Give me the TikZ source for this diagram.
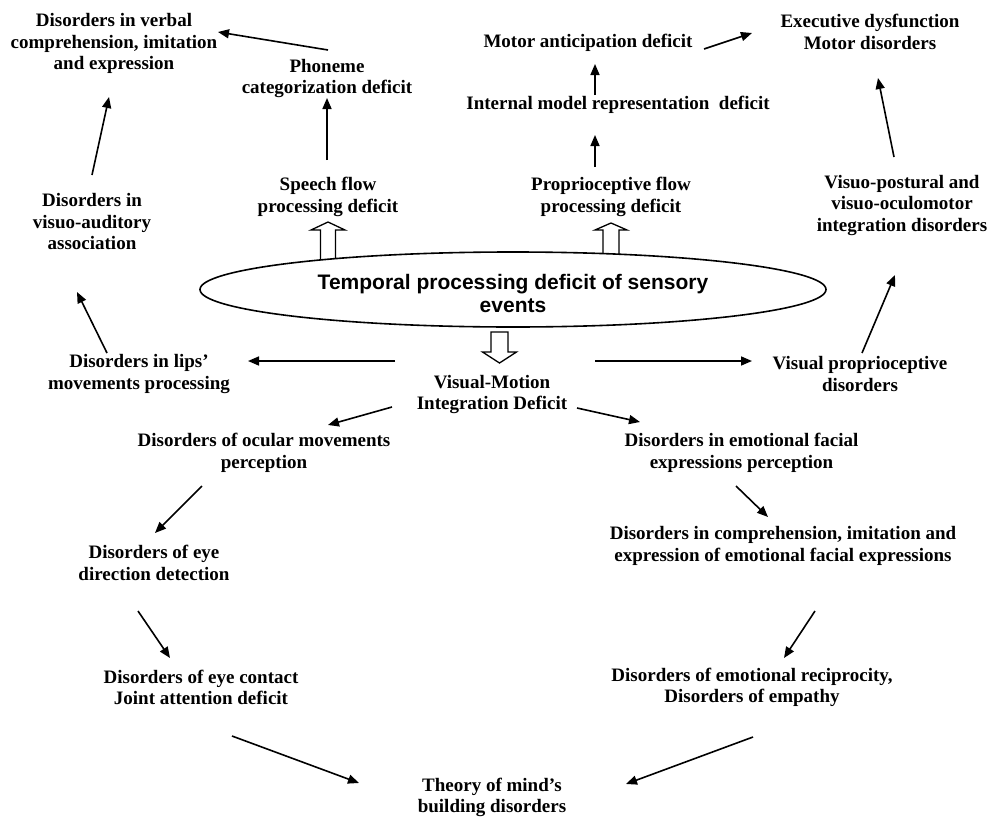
\documentclass[tikz,border=0pt]{standalone}
\usepackage{fontspec}
\setmainfont{Liberation Serif}
\newfontfamily\sansbold{Liberation Sans}
\usetikzlibrary{arrows.meta,calc,shapes.geometric}
\pgfdeclarelayer{bg}
\pgfsetlayers{bg,main}
\begin{document}
\begin{tikzpicture}[x=1pt,y=-1pt,
  lbl/.style={font=\bfseries\fontsize{19}{21.5}\selectfont, align=center, inner sep=0pt},
  arr/.style={line width=1.6pt, -{Triangle[length=11pt,width=9pt]}},
  hollow/.style={line width=1.3pt, fill=white, line join=miter}]
\useasboundingbox (0,0) rectangle (991,819);

% text nodes
\node[lbl] (verbal) at (114,43.5) {Disorders in verbal\\comprehension, imitation\\and expression};
\node[lbl] (phoneme) at (327,78.5) {Phoneme\\categorization deficit};
\node[lbl] (motor) at (588,43) {Motor anticipation deficit};
\node[lbl] (internal) at (618,105) {Internal model representation~ deficit};
\node[lbl] (exec) at (870,32) {Executive dysfunction\\Motor disorders};
\node[lbl] (visaud) at (92,221.5) {Disorders in\\visuo-auditory\\association};
\node[lbl] (speech) at (328,197) {Speech flow\\processing deficit};
\node[lbl] (proprio) at (611,197) {Proprioceptive flow\\processing deficit};
\node[lbl] (visuopost) at (902,205.5) {Visuo-postural and\\visuo-oculomotor\\integration disorders};
\node[lbl] (lips) at (139,374) {Disorders in lips'\\movements processing};
\node[lbl] (visprop) at (860,374) {Visual proprioceptive\\disorders};
\node[lbl] (vm) at (492,394.5) {Visual-Motion\\Integration Deficit};
\node[lbl] (ocular) at (264,453) {Disorders of ocular movements\\perception};
\node[lbl] (emofacial) at (741.5,453) {Disorders in emotional facial\\expressions perception};
\node[lbl] (eyedir) at (154,563) {Disorders of eye\\direction detection};
\node[lbl] (compr) at (783,546) {Disorders in comprehension, imitation and\\expression of emotional facial expressions};
\node[lbl] (eyecontact) at (201,687.5) {Disorders of eye contact\\Joint attention deficit};
\node[lbl] (recip) at (752,687.5) {Disorders of emotional reciprocity,\\Disorders of empathy};
\node[lbl] (tom) at (492,797.5) {Theory of mind's\\building disorders};

% central ellipse and its text
\node[ellipse, draw, line width=1.6pt, fill=white, minimum width=626pt, minimum height=75pt,
      inner sep=0pt] (ell) at (513,289.5) {};
\node[inner sep=0pt, align=center, font=\sansbold\bfseries\fontsize{21}{23}\selectfont]
      (elltext) at ($(ell)+(0,4)$) {Temporal processing deficit of sensory\\events};

% hollow arrows from the ellipse
\begin{pgfonlayer}{bg}
\draw[hollow] ($(speech)+(-7.5,65)$) -- ($(speech)+(-7.5,33)$) -- ($(speech)+(-17,33)$)
  -- ($(speech)+(0,25)$) -- ($(speech)+(17,33)$) -- ($(speech)+(7.5,33)$) -- ($(speech)+(7.5,65)$) -- cycle;
\draw[hollow] ($(proprio)+(-8,65)$) -- ($(proprio)+(-8,33)$) -- ($(proprio)+(-16,33)$)
  -- ($(proprio)+(0,26)$) -- ($(proprio)+(16,33)$) -- ($(proprio)+(8,33)$) -- ($(proprio)+(8,65)$) -- cycle;
\end{pgfonlayer}
\draw[hollow] ($(vm)+(-1,-62.5)$) -- ($(vm)+(16,-62.5)$) -- ($(vm)+(16,-42.5)$) -- ($(vm)+(24.5,-42.5)$)
  -- ($(vm)+(7.5,-31.5)$) -- ($(vm)+(-9.5,-42.5)$) -- ($(vm)+(-1,-42.5)$) -- cycle;

% connectors
\draw[arr] ($(phoneme)+(1,-28.5)$) -- ($(verbal)+(104,-11.5)$);
\draw[arr] ($(speech)+(-1,-37)$) -- ($(phoneme)+(0,19.5)$);
\draw[arr] ($(visaud)+(0,-46.5)$) -- ($(verbal)+(-5,53.5)$);
\draw[arr] ($(lips)+(-32,-21)$) -- ($(visaud)+(-15,70.5)$);
\draw[arr] ($(vm)+(-97,-33.5)$) -- ($(lips)+(109,-13)$);
\draw[arr] ($(vm)+(103,-33.5)$) -- ($(visprop)+(-108,-13)$);
\draw[arr] ($(visprop)+(2,-21)$) -- ($(visuopost)+(-7,69.5)$);
\draw[arr] ($(visuopost)+(-8,-48.5)$) -- ($(exec)+(8,46)$);
\draw[arr] ($(motor)+(116,6)$) -- ($(exec)+(-118,1)$);
\draw[arr] ($(internal)+(-23,-10)$) -- ($(motor)+(7,21)$);
\draw[arr] ($(proprio)+(-16,-30)$) -- ($(internal)+(-23,30)$);
\draw[arr] ($(vm)+(-100,12.5)$) -- ($(ocular)+(64,-28)$);
\draw[arr] ($(vm)+(85,13.5)$) -- ($(emofacial)+(-101.5,-31)$);
\draw[arr] ($(ocular)+(-62,33)$) -- ($(eyedir)+(1,-30)$);
\draw[arr] ($(eyedir)+(-16,48)$) -- ($(eyecontact)+(-31,-29.5)$);
\draw[arr] ($(eyecontact)+(31,48.5)$) -- ($(tom)+(-133,-14.5)$);
\draw[arr] ($(emofacial)+(-5.5,33)$) -- ($(compr)+(-15,-29)$);
\draw[arr] ($(compr)+(32,65)$) -- ($(recip)+(32,-29.5)$);
\draw[arr] ($(recip)+(1,49.5)$) -- ($(tom)+(134,-13.5)$);
\end{tikzpicture}
\end{document}
